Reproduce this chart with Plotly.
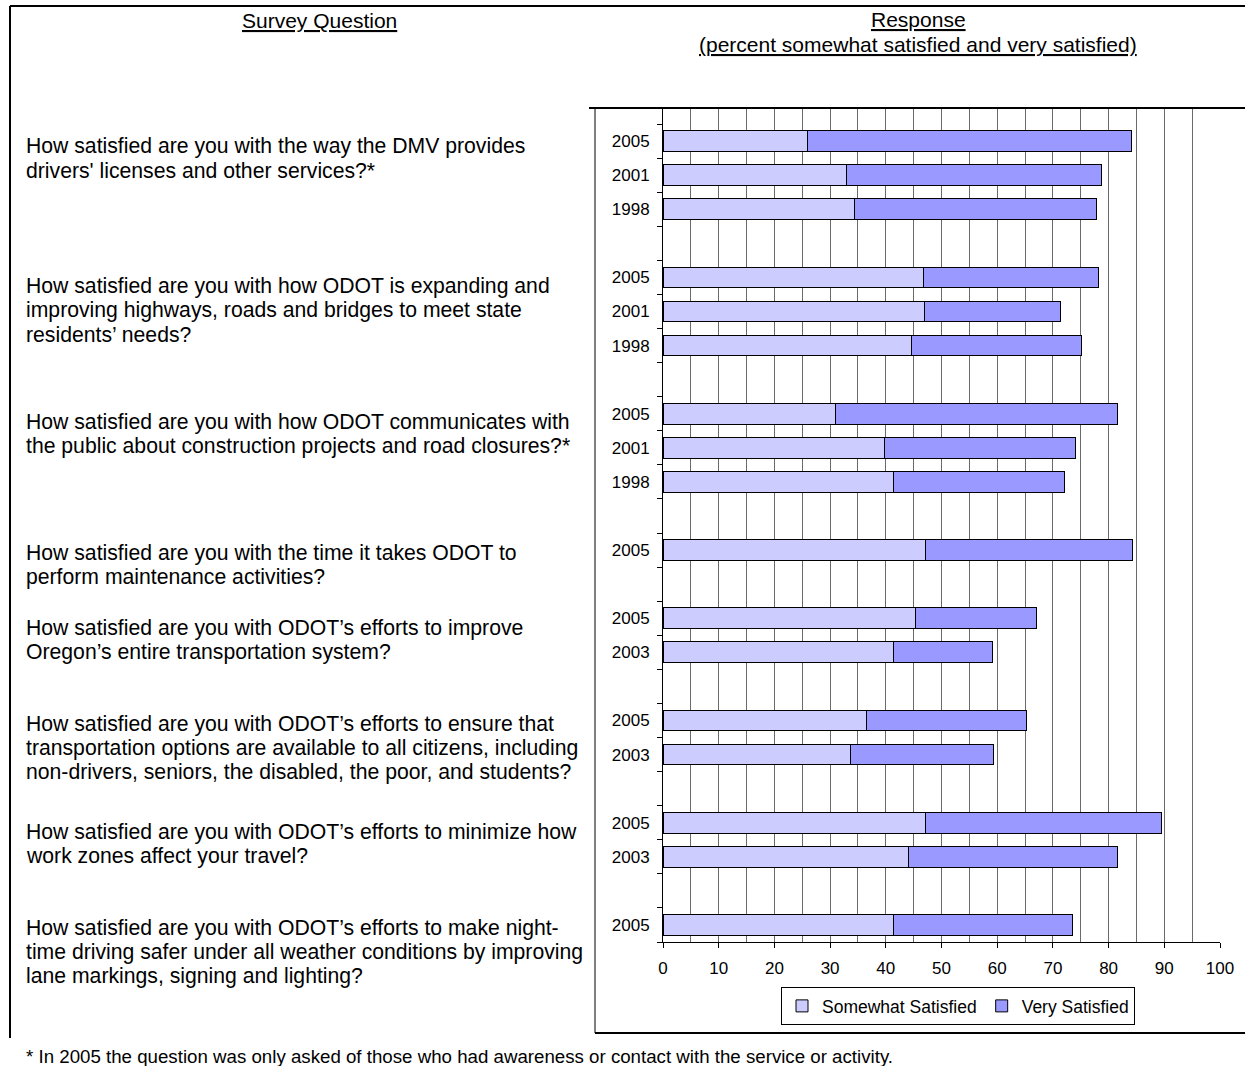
import plotly.graph_objects as go

# ---------------- data ----------------
row_years = ["2005", "2001", "1998", "",
             "2005", "2001", "1998", "",
             "2005", "2001", "1998", "",
             "2005", "",
             "2005", "2003", "",
             "2005", "2003", "",
             "2005", "2003", "",
             "2005"]
somewhat = [26.0, 32.9, 34.4, None,
            46.7, 46.9, 44.6, None,
            31.0, 39.8, 41.4, None,
            47.1, None,
            45.4, 41.4, None,
            36.5, 33.6, None,
            47.1, 44.0, None,
            41.4]
very = [58.1, 45.8, 43.4, None,
        31.5, 24.5, 30.5, None,
        50.6, 34.2, 30.7, None,
        37.2, None,
        21.6, 17.7, None,
        28.8, 25.7, None,
        42.4, 37.6, None,
        32.2]
series_names = ["Somewhat Satisfied", "Very Satisfied"]
x_ticks = [0, 10, 20, 30, 40, 50, 60, 70, 80, 90, 100]

question_lines = [
    ["How satisfied are you with the way the DMV provides",
     "drivers' licenses and other services?*"],
    ["How satisfied are you with how ODOT is expanding and",
     "improving highways, roads and bridges to meet state",
     "residents\u2019 needs?"],
    ["How satisfied are you with how ODOT communicates with",
     "the public about construction projects and road closures?*"],
    ["How satisfied are you with the time it takes ODOT to",
     "perform maintenance activities?"],
    ["How satisfied are you with ODOT\u2019s efforts to improve",
     "Oregon\u2019s entire transportation system?"],
    ["How satisfied are you with ODOT\u2019s efforts to ensure that",
     "transportation options are available to all citizens, including",
     "non-drivers, seniors, the disabled, the poor, and students?"],
    ["How satisfied are you with ODOT\u2019s efforts to minimize how",
     "work zones affect your travel?"],
    ["How satisfied are you with ODOT\u2019s efforts to make night-",
     "time driving safer under all weather conditions by improving",
     "lane markings, signing and lighting?"],
]
question_first_line_px = [146, 286, 422, 553, 628, 724, 832, 928]

footnote = "* In 2005 the question was only asked of those who had awareness or contact with the service or activity."

# ---------------- layout geometry ----------------
W_PX, H_PX = 1245, 1066
L, R_EDGE, T, B_EDGE = 663, 1220, 107, 942
PW, PH = R_EDGE - L, B_EDGE - T
FONT = "Arial, Liberation Sans, sans-serif"


def px_x(px):
    return (px - L) / PW


def px_y(py):
    return (B_EDGE - py) / PH


positions = list(range(len(row_years)))
label_pos = [p for p, yv in zip(positions, row_years) if yv]
label_txt = [yv for yv in row_years if yv]
boundaries = [p - 0.5 for p in positions] + [positions[-1] + 0.5]

colors = ["#CCCCFF", "#9999FF"]
GRID = "#6a6a6a"

fig = go.Figure()
for name, vals, col in zip(series_names, [somewhat, very], colors):
    fig.add_trace(go.Bar(
        y=positions, x=vals, orientation="h", name=name,
        width=0.61,
        marker=dict(color=col, line=dict(color="black", width=1)),
        hoverinfo="skip",
    ))

fig.update_layout(
    width=W_PX, height=H_PX,
    margin=dict(l=L, r=W_PX - R_EDGE, t=T, b=H_PX - B_EDGE, pad=0),
    paper_bgcolor="white", plot_bgcolor="white",
    barmode="stack",
    font=dict(family=FONT, color="black", size=17),
    showlegend=True,
    legend=dict(
        orientation="h", x=px_x(781), y=px_y(987),
        xanchor="left", yanchor="top",
        bordercolor="black", borderwidth=1, bgcolor="white",
        font=dict(size=17.5, family=FONT, color="black"),
        itemwidth=30, traceorder="normal",
    ),
    xaxis=dict(
        range=[0, 100], tickmode="array", tickvals=x_ticks,
        ticktext=[str(v) for v in x_ticks],
        showgrid=True, gridcolor=GRID, gridwidth=1,
        minor=dict(dtick=5, tick0=0, showgrid=True, gridcolor=GRID, gridwidth=1),
        showline=True, linecolor="black", linewidth=1,
        ticks="outside", ticklen=5, tickcolor="black",
        ticklabelstandoff=6,
        tickfont=dict(size=17, family=FONT, color="black"),
        zeroline=False, fixedrange=True,
    ),
    yaxis=dict(
        range=[positions[-1] + 0.5, -1.0],
        tickmode="array", tickvals=label_pos, ticktext=label_txt,
        ticks="", ticklabelstandoff=9,
        minor=dict(tickmode="array", tickvals=boundaries, ticks="outside",
                   ticklen=5, tickcolor="black", showgrid=False),
        showline=True, linecolor="black", linewidth=1,
        showgrid=False, zeroline=False, fixedrange=True,
        tickfont=dict(size=17, family=FONT, color="black"),
    ),
)

annotations = []
for lines, y0 in zip(question_lines, question_first_line_px):
    for i, line in enumerate(lines):
        annotations.append(dict(
            text=line, x=px_x(24), y=px_y(y0 + 24 * i), xref="paper", yref="paper",
            xanchor="left", yanchor="middle", showarrow=False,
            font=dict(size=21.2, family=FONT, color="black"),
        ))
annotations += [
    dict(text="<u>Survey Question</u>", x=px_x(319), y=px_y(21), xref="paper", yref="paper",
         xanchor="center", yanchor="middle", showarrow=False,
         font=dict(size=21, family=FONT, color="black")),
    dict(text="<u>Response</u>", x=px_x(918), y=px_y(20), xref="paper", yref="paper",
         xanchor="center", yanchor="middle", showarrow=False,
         font=dict(size=21, family=FONT, color="black")),
    dict(text="<u>(percent somewhat satisfied and very satisfied)</u>", x=px_x(918), y=px_y(44),
         xref="paper", yref="paper", xanchor="center", yanchor="middle", showarrow=False,
         font=dict(size=21, family=FONT, color="black")),
    dict(text=footnote, x=px_x(24), y=px_y(1056), xref="paper", yref="paper",
         xanchor="left", yanchor="middle", showarrow=False,
         font=dict(size=18.7, family=FONT, color="black")),
]
fig.update_layout(annotations=annotations)

line_black = dict(color="black", width=2)
shapes = [
    # outer frame
    dict(type="line", xref="paper", yref="paper", x0=px_x(10), x1=px_x(1245), y0=px_y(6), y1=px_y(6), line=line_black),
    dict(type="line", xref="paper", yref="paper", x0=px_x(10), x1=px_x(10), y0=px_y(6), y1=px_y(1038), line=line_black),
    # chart frame
    dict(type="line", xref="paper", yref="paper", x0=px_x(589), x1=px_x(1245), y0=px_y(108), y1=px_y(108), line=line_black),
    dict(type="line", xref="paper", yref="paper", x0=px_x(595), x1=px_x(595), y0=px_y(108), y1=px_y(1033), line=dict(color="black", width=1)),
    dict(type="line", xref="paper", yref="paper", x0=px_x(595), x1=px_x(1245), y0=px_y(1033), y1=px_y(1033), line=line_black),
]
fig.update_layout(shapes=shapes)

fig.write_html("out.html")
